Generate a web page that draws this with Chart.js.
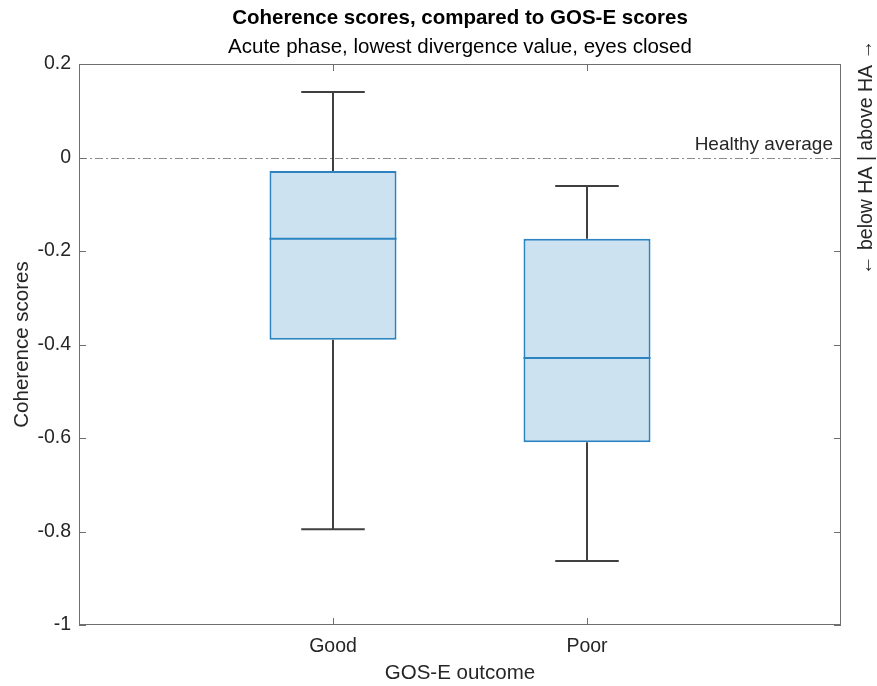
<!DOCTYPE html>
<html>
<head>
<meta charset="utf-8">
<script src="https://cdn.jsdelivr.net/npm/chart.js@4"></script>
<style>
  body { margin: 0; background: #fff; }
  #wrap { width: 877px; height: 686px; }
</style>
</head>
<body>
<div id="wrap"><canvas id="test"></canvas></div>
<script>
const categories = ['Good', 'Poor'];
const upperWhisker = [0.140, -0.061];
const q3 = [-0.029, -0.174];
const medians = [-0.174, -0.429];
const q1 = [-0.390, -0.609];
const lowerWhisker = [-0.795, -0.863];
const yTicks = [0.2, 0, -0.2, -0.4, -0.6, -0.8, -1];
const yTickLabels = ['0.2', '0', '-0.2', '-0.4', '-0.6', '-0.8', '-1'];
const healthyAverage = 0;

const textColor = '#262626';
const axisColor = '#6f6f6f';
const boxBlue = '#2b83c0';
const whiskerColor = '#404040';
const FONT = "'Liberation Sans', Arial, sans-serif";

// whiskers, caps, medians, frame, inward ticks, reference line
const boxExtras = {
    id: 'boxExtras',
    beforeDatasetsDraw(chart) {
        const ctx = chart.ctx;
        const a = chart.chartArea;
        const y = chart.scales.y;
        const py = Math.round(y.getPixelForValue(healthyAverage)) + 0.5;
        ctx.save();
        ctx.strokeStyle = '#8c8c8c';
        ctx.lineWidth = 1;
        ctx.setLineDash([8, 3, 2, 3]);
        ctx.beginPath();
        ctx.moveTo(a.left, py);
        ctx.lineTo(a.right, py);
        ctx.stroke();
        ctx.setLineDash([]);
        ctx.fillStyle = textColor;
        ctx.font = '19px ' + FONT;
        ctx.textAlign = 'right';
        ctx.textBaseline = 'bottom';
        ctx.fillText('Healthy average', a.right - 8, py - 4);
        ctx.restore();
    },
    afterDatasetsDraw(chart) {
        const ctx = chart.ctx;
        const a = chart.chartArea;
        const x = chart.scales.x;
        const y = chart.scales.y;
        ctx.save();
        categories.forEach((c, i) => {
            const cx = x.getPixelForValue(i + 1);
            const capL = x.getPixelForValue(i + 1 - 0.125);
            const capR = x.getPixelForValue(i + 1 + 0.125);
            const boxL = x.getPixelForValue(i + 1 - 0.25);
            const boxR = x.getPixelForValue(i + 1 + 0.25);
            ctx.strokeStyle = whiskerColor;
            ctx.lineWidth = 2;
            ctx.beginPath();
            ctx.moveTo(cx, y.getPixelForValue(q3[i]));
            ctx.lineTo(cx, y.getPixelForValue(upperWhisker[i]));
            ctx.moveTo(capL, y.getPixelForValue(upperWhisker[i]));
            ctx.lineTo(capR, y.getPixelForValue(upperWhisker[i]));
            ctx.moveTo(cx, y.getPixelForValue(q1[i]));
            ctx.lineTo(cx, y.getPixelForValue(lowerWhisker[i]));
            ctx.moveTo(capL, y.getPixelForValue(lowerWhisker[i]));
            ctx.lineTo(capR, y.getPixelForValue(lowerWhisker[i]));
            ctx.stroke();
            ctx.strokeStyle = boxBlue;
            ctx.beginPath();
            ctx.moveTo(boxL, y.getPixelForValue(medians[i]));
            ctx.lineTo(boxR, y.getPixelForValue(medians[i]));
            ctx.stroke();
        });
        // frame and inward ticks
        ctx.strokeStyle = axisColor;
        ctx.lineWidth = 1;
        ctx.strokeRect(a.left + 0.5, a.top + 0.5, a.right - a.left - 1, a.bottom - a.top - 1);
        ctx.beginPath();
        y.ticks.forEach(t => {
            const p = Math.round(y.getPixelForValue(t.value)) + 0.5;
            ctx.moveTo(a.left, p); ctx.lineTo(a.left + 7, p);
            ctx.moveTo(a.right, p); ctx.lineTo(a.right - 7, p);
        });
        x.ticks.forEach(t => {
            const p = Math.round(x.getPixelForValue(t.value)) + 0.5;
            ctx.moveTo(p, a.bottom); ctx.lineTo(p, a.bottom - 7);
            ctx.moveTo(p, a.top); ctx.lineTo(p, a.top + 7);
        });
        ctx.stroke();
        // right side label
        ctx.fillStyle = textColor;
        ctx.font = '19.5px ' + FONT;
        ctx.translate(867, y.getPixelForValue(healthyAverage));
        ctx.rotate(-Math.PI / 2);
        ctx.textAlign = 'center';
        ctx.textBaseline = 'middle';
        ctx.fillText('\u2190 below HA | above HA \u2192', 0, 0);
        ctx.restore();
    }
};

new Chart(
    document.getElementById('test'),
    {
        type: 'bar',
        data: {
            datasets: [
                {
                    label: 'IQR',
                    data: categories.map((c, i) => ({ x: i + 1, y: [q1[i], q3[i]] })),
                    backgroundColor: 'rgba(204,226,241,1)',
                    borderColor: boxBlue,
                    borderWidth: 2,
                    borderSkipped: false,
                    barPercentage: 1,
                    categoryPercentage: 0.5,
                }
            ]
        },
        options: {
            responsive: true,
            maintainAspectRatio: false,
            animation: false,
            layout: { padding: { left: 0, right: 36, top: 0, bottom: 0 } },
            plugins: {
                legend: { display: false },
                tooltip: { enabled: false },
                title: {
                    display: true,
                    fullSize: false,
                    text: 'Coherence scores, compared to GOS-E scores',
                    color: '#000',
                    font: { family: FONT, size: 20.5, weight: 'bold', lineHeight: 1.2 },
                    padding: { top: 6.5, bottom: 4.4 },
                },
                subtitle: {
                    display: true,
                    fullSize: false,
                    text: 'Acute phase, lowest divergence value, eyes closed',
                    color: '#000',
                    font: { family: FONT, size: 20.5, lineHeight: 1.2 },
                    padding: { top: 0, bottom: 3.9 },
                },
            },
            scales: {
                x: {
                    type: 'linear',
                    min: 0,
                    max: 3,
                    offset: false,
                    afterBuildTicks: s => { s.ticks = categories.map((c, i) => ({ value: i + 1 })); },
                    afterFit: s => { s.height = 61; },
                    grid: { display: false, drawTicks: false, offset: false },
                    border: { display: false },
                    ticks: {
                        color: textColor,
                        font: { family: FONT, size: 19.5 },
                        padding: 10,
                        callback: v => categories[v - 1],
                    },
                    title: {
                        display: true,
                        text: 'GOS-E outcome',
                        color: textColor,
                        font: { family: FONT, size: 20.5 },
                        padding: { top: 2, bottom: 0 },
                    },
                },
                y: {
                    min: -1,
                    max: 0.2,
                    afterBuildTicks: s => { s.ticks = yTicks.map(v => ({ value: v })); },
                    afterFit: s => { s.width = 79; },
                    grid: { display: false, drawTicks: false },
                    border: { display: false },
                    ticks: {
                        color: textColor,
                        font: { family: FONT, size: 19.5 },
                        padding: 8,
                        callback: v => yTickLabels[yTicks.findIndex(t => Math.abs(t - v) < 1e-9)],
                    },
                    title: {
                        display: true,
                        text: 'Coherence scores',
                        color: textColor,
                        font: { family: FONT, size: 20.5 },
                        padding: { top: 10, bottom: 0 },
                    },
                },
            },
        },
        plugins: [boxExtras],
    }
);
</script>
</body>
</html>
